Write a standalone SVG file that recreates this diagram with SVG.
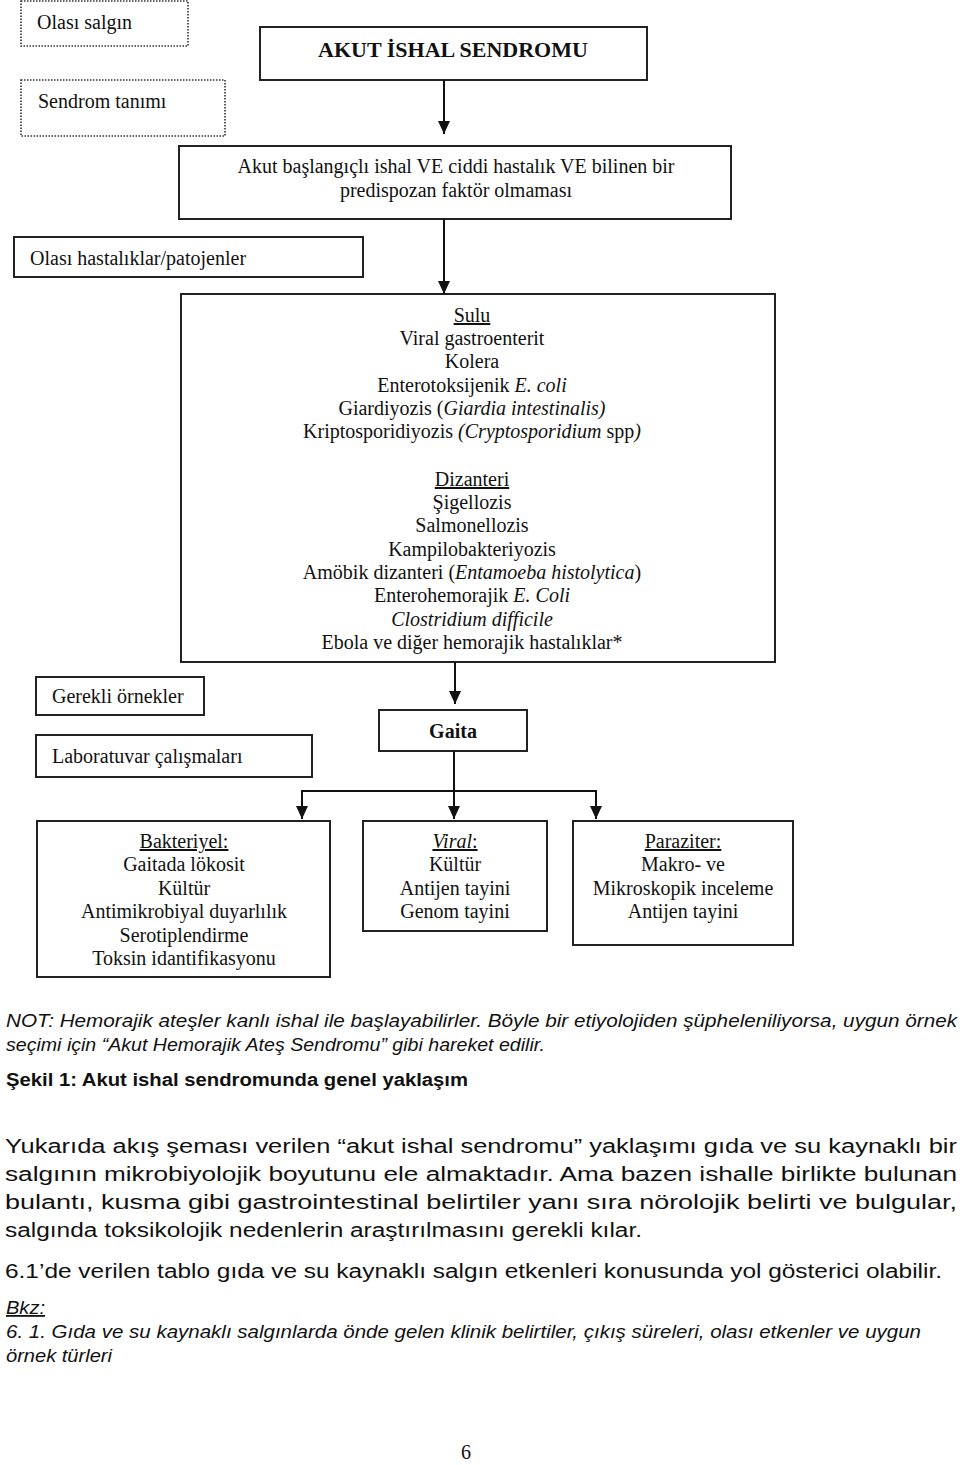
<svg xmlns="http://www.w3.org/2000/svg" width="960" height="1465" viewBox="0 0 960 1465">
<style>
.bg{fill:#fff}
.box{fill:#fff;stroke:#222;stroke-width:2}
.dash{fill:#fff;stroke:#333;stroke-width:1.6;stroke-dasharray:1.5 1.5}
.t{font-family:"Liberation Serif","Times New Roman",serif;font-size:20px;fill:#111}
.c{text-anchor:middle}
.b{font-weight:bold}
.i{font-style:italic}
.u{text-decoration:underline}
.s{font-family:"Liberation Sans",Arial,sans-serif;fill:#111}
.n{font-size:18px}
.p{font-size:20px}
.line{stroke:#111;stroke-width:2;fill:none}
</style>
<defs>
<marker id="ah" markerWidth="13" markerHeight="12" refX="13" refY="6" orient="auto" markerUnits="userSpaceOnUse" viewBox="0 0 13 12">
<path d="M0,0 L13,6 L0,12 Z" fill="#111"/>
</marker>
</defs>
<rect class="bg" x="0" y="0" width="960" height="1465"/>

<g id="olasi-salgin">
<rect class="dash" x="21" y="1" width="167" height="45"/>
<text class="t" x="37" y="29">Olası salgın</text>
</g>
<g id="sendrom-tanimi">
<rect class="dash" x="21" y="80" width="204" height="56"/>
<text class="t" x="38" y="108">Sendrom tanımı</text>
</g>
<g id="title">
<rect class="box" x="260" y="27" width="387" height="53"/>
<text class="t b c" x="453" y="57" style="font-size:22px">AKUT İSHAL SENDROMU</text>
</g>
<g id="tanim">
<rect class="box" x="179" y="146" width="552" height="73"/>
<text class="t c" x="456" y="173">Akut başlangıçlı ishal VE ciddi hastalık VE bilinen bir</text>
<text class="t c" x="456" y="197">predispozan faktör olmaması</text>
</g>
<g id="olasi-hastaliklar">
<rect class="box" x="14" y="237" width="349" height="40"/>
<text class="t" x="30" y="265">Olası hastalıklar/patojenler</text>
</g>
<g id="hastaliklar">
<rect class="box" x="181" y="294" width="594" height="368"/>
<text class="t c" x="472" y="322"><tspan class="u">Sulu</tspan></text>
<text class="t c" x="472" y="345">Viral gastroenterit</text>
<text class="t c" x="472" y="368">Kolera</text>
<text class="t c" x="472" y="392">Enterotoksijenik <tspan class="i">E. coli</tspan></text>
<text class="t c" x="472" y="415">Giardiyozis (<tspan class="i">Giardia intestinalis)</tspan></text>
<text class="t c" x="472" y="438">Kriptosporidiyozis <tspan class="i">(Cryptosporidium</tspan> spp<tspan class="i">)</tspan></text>
<text class="t c" x="472" y="486"><tspan class="u">Dizanteri</tspan></text>
<text class="t c" x="472" y="509">Şigellozis</text>
<text class="t c" x="472" y="532">Salmonellozis</text>
<text class="t c" x="472" y="556">Kampilobakteriyozis</text>
<text class="t c" x="472" y="579">Amöbik dizanteri (<tspan class="i">Entamoeba histolytica</tspan>)</text>
<text class="t c" x="472" y="602">Enterohemorajik <tspan class="i">E. Coli</tspan></text>
<text class="t c i" x="472" y="626">Clostridium difficile</text>
<text class="t c" x="472" y="649">Ebola ve diğer hemorajik hastalıklar*</text>
</g>
<g id="gerekli-ornekler">
<rect class="box" x="36" y="677" width="168" height="38"/>
<text class="t" x="52" y="703">Gerekli örnekler</text>
</g>
<g id="laboratuvar">
<rect class="box" x="36" y="735" width="276" height="42"/>
<text class="t" x="52" y="763">Laboratuvar çalışmaları</text>
</g>
<g id="gaita">
<rect class="box" x="379" y="710" width="148" height="41"/>
<text class="t b c" x="453" y="738">Gaita</text>
</g>
<g id="bakteriyel">
<rect class="box" x="37" y="821" width="293" height="156"/>
<text class="t c" x="184" y="848"><tspan class="u">Bakteriyel:</tspan></text>
<text class="t c" x="184" y="871">Gaitada lökosit</text>
<text class="t c" x="184" y="895">Kültür</text>
<text class="t c" x="184" y="918">Antimikrobiyal duyarlılık</text>
<text class="t c" x="184" y="942">Serotiplendirme</text>
<text class="t c" x="184" y="965">Toksin idantifikasyonu</text>
</g>
<g id="viral">
<rect class="box" x="363" y="821" width="184" height="110"/>
<text class="t c" x="455" y="848"><tspan class="i u">Viral</tspan><tspan class="u">:</tspan></text>
<text class="t c" x="455" y="871">Kültür</text>
<text class="t c" x="455" y="895">Antijen tayini</text>
<text class="t c" x="455" y="918">Genom tayini</text>
</g>
<g id="paraziter">
<rect class="box" x="573" y="821" width="220" height="124"/>
<text class="t c" x="683" y="848"><tspan class="u">Paraziter:</tspan></text>
<text class="t c" x="683" y="871">Makro- ve</text>
<text class="t c" x="683" y="895">Mikroskopik inceleme</text>
<text class="t c" x="683" y="918">Antijen tayini</text>
</g>

<g id="connectors">
<line class="line" x1="444" y1="80" x2="444" y2="134" marker-end="url(#ah)"/>
<line class="line" x1="444" y1="219" x2="444" y2="294" marker-end="url(#ah)"/>
<line class="line" x1="455" y1="662" x2="455" y2="704" marker-end="url(#ah)"/>
<line class="line" x1="454" y1="751" x2="454" y2="791"/>
<line class="line" x1="302" y1="791" x2="596" y2="791"/>
<line class="line" x1="302" y1="790" x2="302" y2="819" marker-end="url(#ah)"/>
<line class="line" x1="454" y1="790" x2="454" y2="819" marker-end="url(#ah)"/>
<line class="line" x1="596" y1="790" x2="596" y2="819" marker-end="url(#ah)"/>
</g>

<g id="notes">
<text class="s i n" x="6" y="1027" textLength="951" lengthAdjust="spacingAndGlyphs">NOT: Hemorajik ateşler kanlı ishal ile başlayabilirler. Böyle bir etiyolojiden şüpheleniliyorsa, uygun örnek</text>
<text class="s i n" x="6" y="1051" textLength="539" lengthAdjust="spacingAndGlyphs">seçimi için  “Akut Hemorajik Ateş Sendromu” gibi hareket edilir.</text>
<text class="s b n" x="6" y="1086" textLength="462" lengthAdjust="spacingAndGlyphs">Şekil 1: Akut ishal sendromunda genel yaklaşım</text>
<text class="s p" x="5" y="1153" textLength="952" lengthAdjust="spacingAndGlyphs">Yukarıda akış şeması verilen “akut ishal sendromu” yaklaşımı gıda ve su kaynaklı bir</text>
<text class="s p" x="5" y="1181" textLength="952" lengthAdjust="spacingAndGlyphs">salgının mikrobiyolojik boyutunu ele almaktadır. Ama bazen ishalle birlikte bulunan</text>
<text class="s p" x="5" y="1209" textLength="952" lengthAdjust="spacingAndGlyphs">bulantı, kusma gibi gastrointestinal belirtiler yanı sıra nörolojik belirti ve bulgular,</text>
<text class="s p" x="5" y="1237" textLength="637" lengthAdjust="spacingAndGlyphs">salgında toksikolojik nedenlerin araştırılmasını gerekli kılar.</text>
<text class="s p" x="5" y="1278" textLength="937" lengthAdjust="spacingAndGlyphs">6.1’de verilen tablo gıda ve su kaynaklı salgın etkenleri konusunda yol gösterici olabilir.</text>
<text class="s i u n" x="6" y="1314" textLength="39" lengthAdjust="spacingAndGlyphs">Bkz:</text>
<text class="s i n" x="6" y="1338" textLength="915" lengthAdjust="spacingAndGlyphs">6. 1. Gıda ve su kaynaklı salgınlarda önde gelen klinik belirtiler,  çıkış süreleri, olası etkenler ve uygun</text>
<text class="s i n" x="6" y="1362" textLength="106" lengthAdjust="spacingAndGlyphs">örnek türleri</text>
<text class="t" x="461" y="1459">6</text>
</g>
</svg>
